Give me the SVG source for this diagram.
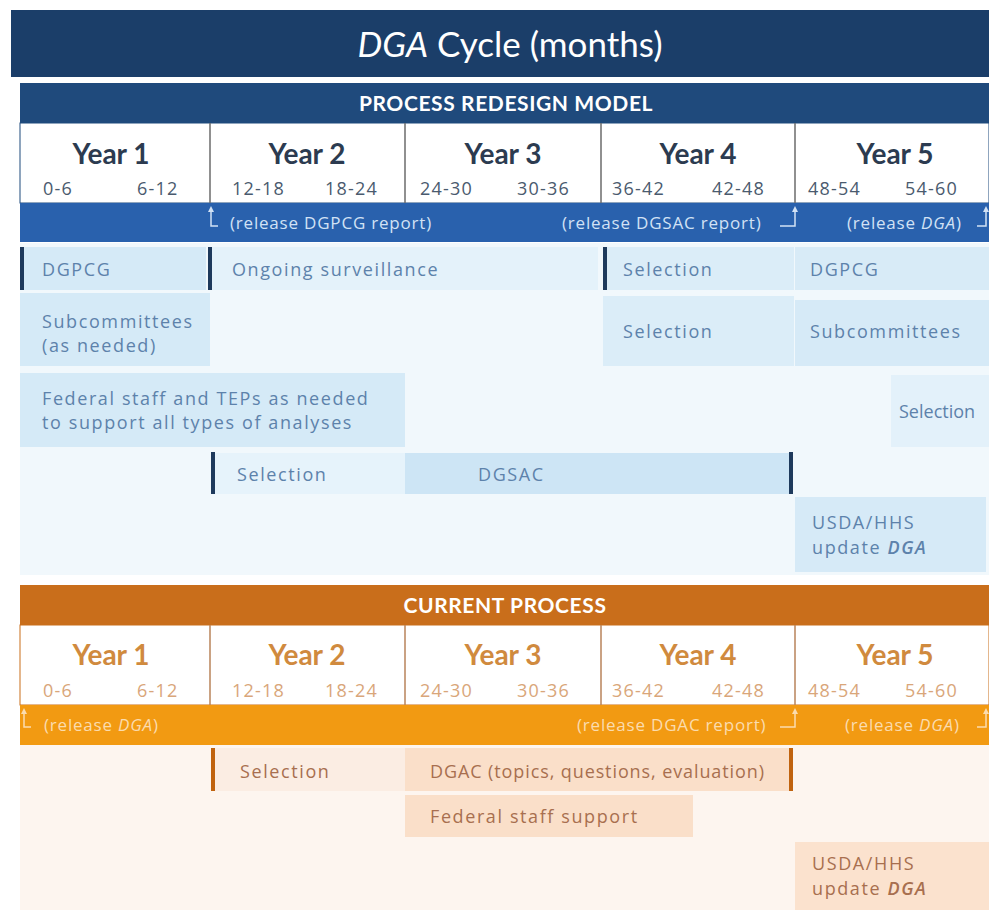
<svg xmlns="http://www.w3.org/2000/svg" width="989" height="912" viewBox="0 0 989 912">
<defs>
<style>
.t{font-family:"Open Sans","Liberation Sans",sans-serif}
.yb{font-family:"Lato","Open Sans",sans-serif;font-size:28px;font-weight:700;fill:#2c3b50;text-anchor:middle}
.yo{font-family:"Lato","Open Sans",sans-serif;font-size:28px;font-weight:700;fill:#d08a3e;text-anchor:middle}
.mb{font-family:"Open Sans",sans-serif;font-size:18px;letter-spacing:1.2px;fill:#4a5a6e}
.mo{font-family:"Open Sans",sans-serif;font-size:18px;letter-spacing:1.2px;fill:#d9a67a}
.rb{font-family:"Open Sans",sans-serif;font-size:17px;letter-spacing:0.8px;fill:#d2e2f5}
.ro{font-family:"Open Sans",sans-serif;font-size:17px;letter-spacing:0.8px;fill:#fbdcae}
.bt{font-family:"Open Sans",sans-serif;font-size:18px;letter-spacing:1.6px;fill:#5d82ab}
.ot{font-family:"Open Sans",sans-serif;font-size:18px;letter-spacing:1.6px;fill:#a86f4f}
.hdr{font-family:"Lato","Open Sans",sans-serif;font-size:21px;font-weight:700;letter-spacing:0.6px;fill:#ffffff;text-anchor:middle}
.div{stroke:#6b6b6b;stroke-width:1.5}
.divo{stroke:#b9835a;stroke-width:1.5}
.barb{fill:#1e3a5c}
.baro{fill:#c0630f}
</style>
<marker id="ahb" markerWidth="6" markerHeight="6" refX="3" refY="3" orient="auto" markerUnits="userSpaceOnUse"><path d="M0,6 L3,0 L6,6 Z" fill="#d2e2f5" transform="rotate(90 3 3)"/></marker>
<marker id="aho" markerWidth="6" markerHeight="6" refX="3" refY="3" orient="auto" markerUnits="userSpaceOnUse"><path d="M0,6 L3,0 L6,6 Z" fill="#fbdcae" transform="rotate(90 3 3)"/></marker>
</defs>
<rect width="989" height="912" fill="#ffffff"/>

<g id="title">
<rect x="11" y="10" width="978" height="67" fill="#1b3e69"/>
<text x="510" y="57" font-family="Lato,'Open Sans',sans-serif" font-size="35" fill="#ffffff" text-anchor="middle"><tspan font-style="italic">DGA</tspan> Cycle (months)</text>
</g>

<g id="redesign-header">
<rect x="20" y="83" width="969" height="40" fill="#1f4a7c"/>
<text x="506" y="111" class="hdr">PROCESS REDESIGN MODEL</text>
</g>

<g id="redesign-years">
<rect x="20" y="123" width="969" height="80" fill="#ffffff" stroke="#1f4a7c" stroke-width="1"/>
<line x1="210" y1="123" x2="210" y2="203" class="div"/>
<line x1="405" y1="123" x2="405" y2="203" class="div"/>
<line x1="601" y1="123" x2="601" y2="203" class="div"/>
<line x1="795" y1="123" x2="795" y2="203" class="div"/>
<text x="111" y="164" class="yb">Year 1</text>
<text x="307" y="164" class="yb">Year 2</text>
<text x="503" y="164" class="yb">Year 3</text>
<text x="698" y="164" class="yb">Year 4</text>
<text x="895" y="164" class="yb">Year 5</text>
<text x="43" y="195" class="mb">0-6</text>
<text x="137" y="195" class="mb">6-12</text>
<text x="232" y="195" class="mb">12-18</text>
<text x="325" y="195" class="mb">18-24</text>
<text x="420" y="195" class="mb">24-30</text>
<text x="517" y="195" class="mb">30-36</text>
<text x="612" y="195" class="mb">36-42</text>
<text x="712" y="195" class="mb">42-48</text>
<text x="808" y="195" class="mb">48-54</text>
<text x="905" y="195" class="mb">54-60</text>
</g>

<g id="redesign-release">
<rect x="20" y="203" width="969" height="39" fill="#2961ad"/>
<text x="230" y="229" class="rb">(release DGPCG report)</text>
<text x="562" y="229" class="rb">(release DGSAC report)</text>
<text x="847" y="229" class="rb">(release <tspan font-style="italic">DGA</tspan>)</text>
</g>

<g id="redesign-bg">
<rect x="20" y="243" width="969" height="332" fill="#f1f8fc"/>
</g>

<g id="r-dgpcg1"><rect x="20" y="247" width="186" height="43" fill="#d5eaf7"/><rect x="20" y="247" width="4" height="43" class="barb"/><text x="42" y="276" class="bt">DGPCG</text></g>
<g id="r-surveillance"><rect x="208" y="247" width="390" height="43" fill="#e4f2fa"/><rect x="208" y="247" width="4" height="43" class="barb"/><text x="232" y="276" class="bt">Ongoing surveillance</text></g>
<g id="r-selection1"><rect x="603" y="247" width="191" height="43" fill="#dbedf8"/><rect x="603" y="247" width="4" height="43" class="barb"/><text x="623" y="276" class="bt">Selection</text></g>
<g id="r-dgpcg2"><rect x="795" y="247" width="194" height="43" fill="#d8ebf7"/><text x="810" y="276" class="bt">DGPCG</text></g>

<g id="r-subcommittees1"><rect x="20" y="293" width="190" height="73" fill="#d5eaf7"/><text x="42" y="328" class="bt">Subcommittees</text><text x="42" y="352" class="bt">(as needed)</text></g>
<g id="r-selection2"><rect x="603" y="296" width="191" height="70" fill="#dbedf8"/><text x="623" y="338" class="bt">Selection</text></g>
<g id="r-subcommittees2"><rect x="795" y="300" width="194" height="66" fill="#d6eaf7"/><text x="810" y="338" class="bt">Subcommittees</text></g>

<g id="r-federal"><rect x="20" y="373" width="385" height="74" fill="#d5eaf7"/><text x="42" y="405" class="bt">Federal staff and TEPs as needed</text><text x="42" y="429" class="bt">to support all types of analyses</text></g>
<g id="r-selection3"><rect x="891" y="375" width="98" height="72" fill="#e3f1fa"/><text x="899" y="418" class="bt" style="letter-spacing:0px">Selection</text></g>

<g id="r-selection4"><rect x="213" y="453" width="192" height="41" fill="#e6f3fb"/><rect x="211" y="452" width="4" height="42" class="barb"/><text x="237" y="481" class="bt">Selection</text></g>
<g id="r-dgsac"><rect x="405" y="453" width="386" height="41" fill="#cde5f5"/><rect x="789" y="452" width="4" height="42" class="barb"/><text x="478" y="481" class="bt">DGSAC</text></g>

<g id="r-usda"><rect x="795" y="497" width="191" height="75" fill="#d6eaf7"/><text x="812" y="529" class="bt">USDA/HHS</text><text x="812" y="554" class="bt">update <tspan font-style="italic" font-weight="600">DGA</tspan></text></g>

<g id="current-header">
<rect x="20" y="585" width="969" height="40" fill="#c96e1b"/>
<text x="505" y="613" class="hdr">CURRENT PROCESS</text>
</g>

<g id="current-years">
<rect x="20" y="625" width="969" height="80" fill="#ffffff" stroke="#c96e1b" stroke-width="1"/>
<line x1="210" y1="625" x2="210" y2="705" class="divo"/>
<line x1="405" y1="625" x2="405" y2="705" class="divo"/>
<line x1="601" y1="625" x2="601" y2="705" class="divo"/>
<line x1="795" y1="625" x2="795" y2="705" class="divo"/>
<text x="111" y="665" class="yo">Year 1</text>
<text x="307" y="665" class="yo">Year 2</text>
<text x="503" y="665" class="yo">Year 3</text>
<text x="698" y="665" class="yo">Year 4</text>
<text x="895" y="665" class="yo">Year 5</text>
<text x="43" y="697" class="mo">0-6</text>
<text x="137" y="697" class="mo">6-12</text>
<text x="232" y="697" class="mo">12-18</text>
<text x="325" y="697" class="mo">18-24</text>
<text x="420" y="697" class="mo">24-30</text>
<text x="517" y="697" class="mo">30-36</text>
<text x="612" y="697" class="mo">36-42</text>
<text x="712" y="697" class="mo">42-48</text>
<text x="808" y="697" class="mo">48-54</text>
<text x="905" y="697" class="mo">54-60</text>
</g>

<g id="current-release">
<rect x="20" y="705" width="969" height="40" fill="#f29a12"/>
<text x="44" y="731" class="ro">(release <tspan font-style="italic">DGA</tspan>)</text>
<text x="577" y="731" class="ro">(release DGAC report)</text>
<text x="845" y="731" class="ro">(release <tspan font-style="italic">DGA</tspan>)</text>
</g>

<g id="current-bg">
<rect x="20" y="745" width="969" height="165" fill="#fdf5ef"/>
</g>

<g id="c-selection"><rect x="213" y="748" width="192" height="43" fill="#fbede3"/><rect x="211" y="748" width="4" height="43" class="baro"/><text x="240" y="778" class="ot">Selection</text></g>
<g id="c-dgac"><rect x="405" y="748" width="386" height="43" fill="#fadfc9"/><rect x="789" y="748" width="4" height="43" class="baro"/><text x="430" y="778" class="ot" style="letter-spacing:0.9px">DGAC (topics, questions, evaluation)</text></g>
<g id="c-federal"><rect x="405" y="795" width="288" height="42" fill="#fadfc9"/><text x="430" y="823" class="ot">Federal staff support</text></g>
<g id="c-usda"><rect x="795" y="842" width="194" height="68" fill="#fbe2ce"/><text x="812" y="870" class="ot">USDA/HHS</text><text x="812" y="895" class="ot">update <tspan font-style="italic" font-weight="600">DGA</tspan></text></g>

<g id="connectors" fill="none" stroke-width="1.5">
<path d="M218,226 L211,226 L211,209" stroke="#d2e2f5" marker-end="url(#ahb)"/>
<path d="M780,226 L795,226 L795,209" stroke="#d2e2f5" marker-end="url(#ahb)"/>
<path d="M977,226 L986,226 L986,209" stroke="#d2e2f5" marker-end="url(#ahb)"/>
<path d="M31,727 L24,727 L24,711" stroke="#fbdcae" marker-end="url(#aho)"/>
<path d="M780,727 L795,727 L795,711" stroke="#fbdcae" marker-end="url(#aho)"/>
<path d="M977,727 L986,727 L986,711" stroke="#fbdcae" marker-end="url(#aho)"/>
</g>
</svg>
